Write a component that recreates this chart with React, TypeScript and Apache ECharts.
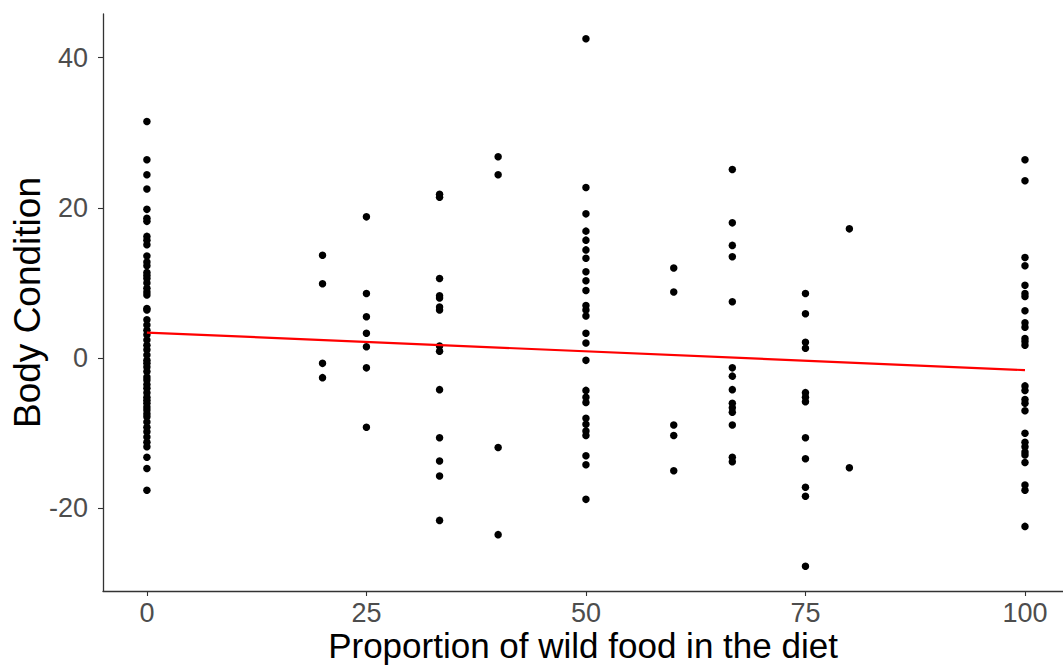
import React, { useEffect, useRef } from "react";
import * as echarts from "echarts";

// Proportion of wild food (x) groups and body condition values (y)
const bc0 = [31.5, 26.4, 24.4, 22.5, 19.8, 18.6, 18.2, 16.2, 15.7, 15.1, 13.6, 12.8, 12.3, 11.4, 11.0, 10.6, 10.0, 9.3, 8.8, 8.4, 6.6, 6.4, 5.1, 4.4, 3.7, 3.1, 2.4, 1.7, 1.1, 0.4, -0.3, -0.7, -1.2, -1.8, -2.5, -2.9, -3.5, -4.0, -4.6, -5.2, -5.6, -6.0, -6.5, -6.9, -7.4, -7.8, -8.5, -9.2, -9.8, -10.5, -11.2, -11.8, -13.2, -14.7, -17.6];
const bc20 = [13.7, 9.9, -0.7, -2.6];
const bc25 = [18.8, 8.6, 5.5, 3.3, 1.5, -1.3, -9.2];
const bc33 = [21.8, 21.4, 10.6, 8.3, 8.0, 6.8, 6.4, 1.6, 0.9, -4.2, -10.6, -13.7, -15.7, -21.6];
const bc40 = [26.8, 24.4, -11.9, -23.5];
const bc50 = [42.5, 22.7, 19.2, 16.9, 15.7, 14.4, 13.3, 11.5, 10.3, 9.0, 7.0, 6.4, 5.6, 3.3, 2.0, -0.3, -4.3, -5.2, -5.9, -8.0, -8.8, -9.7, -10.3, -13.0, -14.2, -18.8];
const bc60 = [12.0, 8.8, -8.9, -10.3, -15.0];
const bc67 = [25.1, 18.0, 15.0, 13.5, 7.5, -1.3, -2.4, -4.2, -6.0, -6.6, -7.2, -8.9, -13.2, -13.8];
const bc75 = [8.6, 5.9, 2.1, 1.3, -4.6, -5.2, -5.8, -10.6, -13.4, -17.2, -18.4, -27.7];
const bc80 = [17.2, -14.6];
const bc100 = [26.4, 23.6, 13.4, 12.3, 9.7, 8.6, 8.2, 6.3, 4.7, 4.1, 2.6, 2.2, 1.7, -3.7, -4.3, -5.5, -6.0, -7.0, -10.0, -11.2, -11.8, -12.5, -12.9, -13.9, -16.9, -17.6, -22.4];

const groupX = [0, 20, 25, 33.33, 40, 50, 60, 66.67, 75, 80, 100];
const groupValues = [bc0, bc20, bc25, bc33, bc40, bc50, bc60, bc67, bc75, bc80, bc100];

// Fitted linear trend
const fitX = [0, 100];
const fitY = [3.4, -1.6];

const xTicks = [0, 25, 50, 75, 100];
const yTicks = [-20, 0, 20, 40];

export default function App() {
  const ref = useRef<HTMLDivElement>(null);
  useEffect(() => {
    if (!ref.current) return;
    const chart = echarts.init(ref.current, null, { renderer: "svg" });
    const points: number[][] = [];
    groupX.forEach((x, i) => groupValues[i].forEach((v) => points.push([x, v])));
    const font = "Liberation Sans";
    chart.setOption({
      animation: false,
      backgroundColor: "#ffffff",
      grid: { left: 103, right: 0, top: 14, bottom: 74, containLabel: false, outerBoundsMode: "none" },
      xAxis: {
        type: "value",
        min: -5,
        max: 104.33,
        name: "Proportion of wild food in the diet",
        nameLocation: "middle",
        nameGap: 37,
        nameMoveOverlap: false,
        nameTextStyle: { color: "#000", fontSize: 35, fontFamily: font, lineHeight: 34 },
        axisLine: { show: true, onZero: false, lineStyle: { color: "#333", width: 1.3 } },
        axisTick: { show: true, length: 5, lineStyle: { color: "#333", width: 1.1 }, customValues: xTicks },
        axisLabel: { color: "#4D4D4D", fontSize: 27, fontFamily: font, margin: 8, lineHeight: 27, customValues: xTicks },
        splitLine: { show: false },
      },
      yAxis: {
        type: "value",
        min: -31,
        max: 45.8,
        name: "Body Condition",
        nameLocation: "middle",
        nameGap: 57,
        nameMoveOverlap: false,
        nameTextStyle: { color: "#000", fontSize: 37, fontFamily: font },
        axisLine: { show: true, onZero: false, lineStyle: { color: "#333", width: 1.3 } },
        axisTick: { show: true, length: 5, lineStyle: { color: "#333", width: 1.1 }, customValues: yTicks },
        axisLabel: { color: "#4D4D4D", fontSize: 27, fontFamily: font, margin: 15, customValues: yTicks },
        splitLine: { show: false },
      },
      series: [
        {
          type: "scatter",
          data: points,
          symbol: "circle",
          symbolSize: 7.5,
          itemStyle: { color: "#000", opacity: 1 },
          silent: true,
        },
        {
          type: "line",
          data: fitX.map((x, i) => [x, fitY[i]]),
          symbol: "none",
          lineStyle: { color: "#FF0000", width: 2.2 },
          silent: true,
        },
      ],
    });
    return () => chart.dispose();
  }, []);
  return <div ref={ref} style={{ position: "absolute", left: 0, top: 0, width: 1063, height: 665 }} />;
}
